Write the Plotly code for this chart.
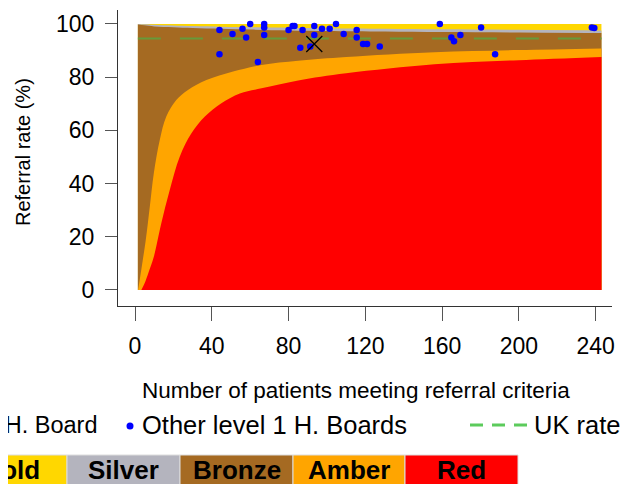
import plotly.graph_objects as go

# ---------------- data ----------------
# band boundaries (referral rate %, against number of patients)
gold_n = [1.5, 243]
gold_v = [100, 100]

silver_n = [1.5, 5, 10, 20, 30, 45, 60, 80, 100, 130, 160, 200, 243]
silver_v = [100, 99.9, 99.7, 99.4, 99.2, 99.0, 98.8, 98.6, 98.4, 98.2, 98.0, 97.8, 97.6]

bronze_n = [1.5, 5, 10, 20, 30, 45, 60, 80, 100, 130, 160, 200, 243]
bronze_v = [99.8, 99.5, 99.1, 98.8, 98.5, 98.2, 97.9, 97.6, 97.4, 97.2, 97.0, 96.8, 96.6]

amber_n = [1.6, 2.5, 4, 5.6, 7.7, 9.8, 12.9, 16.3, 21.5, 27.6, 37.2, 51.1, 65.9, 85, 110, 156, 200, 243]
amber_v = [0, 4, 11, 18.8, 31.3, 43.9, 56.4, 65.2, 71.4, 75.2, 78.9, 82.1, 84.6, 86.2, 87.6, 89.4, 90.2, 90.8]

red_n = [3.3, 5, 7, 9.8, 13.7, 18.1, 23.3, 29.4, 36.4, 45, 54.6, 65.9, 85, 110, 156, 200, 243]
red_v = [0, 2.5, 6.5, 12.5, 25.1, 37.6, 50.1, 58.9, 65.2, 70.2, 73.9, 75.8, 78.8, 81.5, 84.9, 86.4, 87.6]

uk_n = [1.5, 243]
uk_rate = [94.5, 94.5]

other_n = [44.0, 44.0, 50.8, 56.0, 57.9, 60.0, 64.0, 67.3, 67.3, 67.3, 80.0, 82.1, 83.1,
           86.1, 87.3, 91.3, 93.4, 93.4, 97.4, 101.4, 104.7, 108.7, 115.5, 115.5, 118.8,
           120.9, 127.5, 158.8, 164.8, 166.2, 169.5, 180.3, 187.6, 238.0, 239.3]
other_rate = [97.7, 88.6, 96.2, 98.2, 94.9, 100.0, 85.7, 100.0, 98.7, 95.9, 97.7, 99.2, 99.2,
              91.1, 97.7, 91.5, 99.2, 95.9, 98.2, 98.2, 100.0, 96.2, 97.7, 94.9, 92.5,
              92.5, 91.5, 100.0, 94.9, 93.5, 95.9, 98.7, 88.6, 98.7, 98.5]

this_n = [93.4]
this_rate = [92.5]

x_ticks = [0, 40, 80, 120, 160, 200, 240]
y_ticks = [0, 20, 40, 60, 80, 100]

band_labels = ["Gold", "Silver", "Bronze", "Amber", "Red"]
band_colors = ["#FFD700", "#B4B4BE", "#A56A22", "#FFA500", "#FF0000"]

FONT = "Liberation Sans, Arial, sans-serif"

# ---------------- figure ----------------
fig = go.Figure()

band_series = [(gold_n, gold_v), (silver_n, silver_v), (bronze_n, bronze_v),
               (amber_n, amber_v), (red_n, red_v)]
for (bn, bv), col in zip(band_series, band_colors):
    fig.add_trace(go.Scatter(x=bn, y=bv, mode="lines", fill="tozeroy",
                             fillcolor=col, line=dict(width=0, color=col, shape="spline", smoothing=1.0),
                             hoverinfo="skip", showlegend=False))

fig.add_trace(go.Scatter(x=uk_n, y=uk_rate, mode="lines",
                         line=dict(color="#679A3A", width=2, dash="23px,19px"),
                         showlegend=False))

fig.add_trace(go.Scatter(x=other_n, y=other_rate, mode="markers",
                         marker=dict(color="#0000FF", size=6.5, line=dict(width=0)),
                         showlegend=False))

fig.add_trace(go.Scatter(x=this_n, y=this_rate, mode="markers",
                         marker=dict(symbol="x-thin", size=16, line=dict(color="black", width=1.3)),
                         showlegend=False))

# plot area geometry in page pixels (page has an 8px body offset)
OFF = 8
L, R, T, B = 118, 612, 10, 306
W, H = R - L, B - T
def px(xp):
    return (xp - L) / W
def py(yp):
    return (B - yp) / H

fig.update_layout(
    width=628, height=484,
    margin=dict(l=L - OFF, r=628 - (R - OFF), t=T - OFF, b=484 - (B - OFF)),
    plot_bgcolor="white", paper_bgcolor="white",
    font=dict(family=FONT, color="black"),
    xaxis=dict(range=[-8.86, 248.5], tickvals=x_ticks, ticks="outside", ticklen=14,
               tickcolor="#555", tickwidth=1, showline=True, linecolor="#333", linewidth=1,
               showgrid=False, zeroline=False, tickfont=dict(size=23, family=FONT),
               ticklabelstandoff=5),
    yaxis=dict(range=[-6.02, 105.26], tickvals=y_ticks, ticks="outside", ticklen=12,
               tickcolor="#555", tickwidth=1, showline=True, linecolor="#333", linewidth=1,
               showgrid=False, zeroline=False, tickfont=dict(size=23, family=FONT),
               ticklabelstandoff=6),
)

ann = []
ann.append(dict(text="Number of patients meeting referral criteria", x=px(356), y=py(390),
                xref="paper", yref="paper", showarrow=False, xanchor="center", yanchor="middle",
                font=dict(size=22.5, family=FONT)))
ann.append(dict(text="Referral rate (%)", x=px(23), y=py(152), textangle=-90,
                xref="paper", yref="paper", showarrow=False, xanchor="center", yanchor="middle",
                font=dict(size=20, family=FONT)))

# legend row 1
ann.append(dict(text="\u00d7 This H. Board", x=px(100), y=py(425), xref="paper", yref="paper",
                showarrow=False, xanchor="right", yanchor="middle", font=dict(size=23.5, family=FONT)))
ann.append(dict(text="Other level 1 H. Boards", x=px(140), y=py(425), xref="paper", yref="paper",
                showarrow=False, xanchor="left", yanchor="middle", font=dict(size=25.5, family=FONT)))
ann.append(dict(text="UK rate", x=px(532), y=py(425), xref="paper", yref="paper",
                showarrow=False, xanchor="left", yanchor="middle", font=dict(size=25.5, family=FONT)))

shapes = []
shapes.append(dict(type="circle", xref="paper", yref="paper",
                   x0=px(126.5), x1=px(133.5), y0=py(429.5), y1=py(422.5),
                   fillcolor="#0000FF", line=dict(width=0)))
shapes.append(dict(type="line", xref="paper", yref="paper",
                   x0=px(470), x1=px(527), y0=py(425), y1=py(425),
                   line=dict(color="#5CCB5C", width=3, dash="13px,9px")))

# legend row 2: coloured boxes
edges = [-46, 67, 180, 293, 405, 518]
for i, (lab, col) in enumerate(zip(band_labels, band_colors)):
    shapes.append(dict(type="rect", xref="paper", yref="paper",
                       x0=px(edges[i]), x1=px(edges[i + 1]), y0=py(455), y1=py(500),
                       fillcolor=col, line=dict(color="#DDDDDD", width=1), layer="above"))
    ann.append(dict(text="<b>%s</b>" % lab, x=px((edges[i] + edges[i + 1]) / 2), y=py(470),
                    xref="paper", yref="paper", showarrow=False, xanchor="center", yanchor="middle",
                    font=dict(size=26, family=FONT, color="black")))

fig.update_layout(annotations=ann, shapes=shapes)

fig.write_html("out.html")
